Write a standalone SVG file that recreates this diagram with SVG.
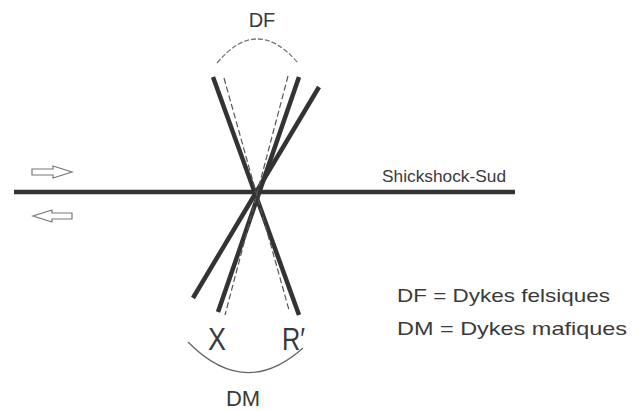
<svg xmlns="http://www.w3.org/2000/svg" width="639" height="411" viewBox="0 0 639 411">
<style>
.thick{stroke:#333;stroke-width:4.5;stroke-linecap:butt;fill:none}
.dash{stroke:#555;stroke-width:1.2;stroke-dasharray:6 3;fill:none}
.arc{stroke:#666;stroke-width:1.3;fill:none}
.arcd{stroke:#777;stroke-width:1.3;fill:none;stroke-dasharray:5 2}
.arr{stroke:#777;stroke-width:1.2;fill:#fff}
text{font-family:"Liberation Sans",Arial,sans-serif;fill:#3a3a3a}
</style>
<rect width="639" height="411" fill="#fff"/>
<g id="connectors">
<line class="thick" x1="14" y1="192" x2="515" y2="192"/>
<line class="thick" x1="213" y1="77" x2="299" y2="315"/>
<line class="thick" x1="299" y1="77" x2="218" y2="312"/>
<line class="thick" x1="319" y1="87" x2="193" y2="298"/>
<line class="dash" x1="224" y1="78" x2="289" y2="310"/>
<line class="dash" x1="288" y1="76" x2="225" y2="315"/>
<path class="arcd" d="M217,63 Q257,15 298,63"/>
<path class="arc" d="M188,342 Q245,400 303,348"/>
</g>
<g id="arrow-right"><path class="arr" d="M32,169 L53,169 L53,166 L72,172 L53,178 L53,175 L32,175 Z"/></g>
<g id="arrow-left"><path class="arr" d="M72,213 L52,213 L52,210 L33,216 L52,222 L52,219 L72,219 Z"/></g>
<g id="label-DF"><text x="262" y="27" font-size="20" text-anchor="middle">DF</text></g>
<g id="label-DM"><text x="243" y="406" font-size="22" text-anchor="middle">DM</text></g>
<g id="label-X"><text x="208" y="350" font-size="31" textLength="18" lengthAdjust="spacingAndGlyphs">X</text></g>
<g id="label-R"><text x="282" y="350" font-size="31" textLength="23" lengthAdjust="spacingAndGlyphs">R′</text></g>
<g id="label-SS"><text x="382" y="182" font-size="17" textLength="124" lengthAdjust="spacingAndGlyphs">Shickshock-Sud</text></g>
<g id="legend">
<text x="397" y="302" font-size="19" textLength="213" lengthAdjust="spacingAndGlyphs">DF = Dykes felsiques</text>
<text x="397" y="335" font-size="19" textLength="230" lengthAdjust="spacingAndGlyphs">DM = Dykes mafiques</text>
</g>
</svg>
